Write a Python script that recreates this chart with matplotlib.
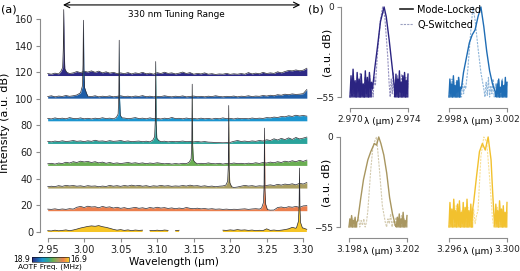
import numpy as np
import matplotlib
matplotlib.use('Agg')
import matplotlib.pyplot as plt
from matplotlib.colors import LinearSegmentedColormap
from matplotlib.cm import ScalarMappable
from matplotlib.colors import Normalize

# ---------------- panel (a) data ----------------
# stacked spectra, one per AOTF frequency (top to bottom)
trace_colors = ['#2e2a86', '#1f5ea8', '#1c95cf', '#2aa39b',
                '#6aae52', '#a99d60', '#eb7f4e', '#f6c526']
trace_floor = [117.5, 100.5, 83.5, 66.5, 50.0, 33.0, 16.0, 0.0]
peak_center = [2.972, 2.999, 3.048, 3.098, 3.148, 3.198, 3.247, 3.295]
peak_dx = [-0.004, -0.0015, -0.0006, 0.0, 0.0006, 0.0015, 0.004]
peak_rise = [
    [3.0, 6, 20, 49.5, 18, 5, 2.5],
    [4.0, 9, 25, 58.5, 22, 8, 4.0],
    [2.5, 5, 18, 60.5, 16, 4, 2.2],
    [2.5, 5, 17, 61.5, 15, 4, 2.2],
    [2.5, 5, 17, 61.0, 15, 4, 2.2],
    [2.2, 5, 16, 62.0, 14, 4, 1.0],
    [2.0, 6, 18, 62.0, 16, 5, 0.8],
    [3.5, 8, 20, 48.0, 18, 7, 3.0],
]
# background (noise) level above each floor, sampled 2.950 ... 3.305 um
noise_1 = [1.5, 1.0, 1.8, 1.2, 2.0, 2.5, 1.5, 2.0, 3.0, 2.2, 3.2, 2.6,
           3.5, 2.4, 3.3, 2.0, 2.8, 1.8, 2.4, 1.5, 2.0, 1.4, 2.2, 1.2,
           2.0, 1.5, 2.4, 1.3, 1.8, 1.0, 2.2, 1.5, 2.5, 1.6, 2.0, 1.2,
           1.8, 2.6, 1.5, 2.2, 1.0, 1.6, 1.2, 2.0, 1.0, 1.4, 0.8, 1.2,
           1.0, 1.6, 0.9, 1.3, 1.0, 1.5, 1.0, 2.2, 1.2, 1.8, 1.3, 2.4,
           1.5, 2.0, 1.6, 2.8, 2.0, 3.0, 3.8, 3.5, 4.2, 3.6, 4.0, 5.5]
noise_2 = [1.2, 1.8, 1.0, 1.6, 1.3, 2.0, 1.4, 1.8, 2.4, 3.0, 2.5, 1.5,
           1.2, 1.8, 1.0, 1.5, 1.2, 1.7, 1.0, 1.4, 1.8, 1.2, 1.5, 1.0,
           1.6, 1.3, 1.9, 1.1, 1.5, 1.0, 1.4, 1.2, 1.8, 1.3, 1.0, 1.5,
           1.2, 1.7, 1.0, 1.3, 1.6, 1.1, 1.4, 1.0, 1.5, 1.2, 1.8, 1.3,
           1.0, 1.4, 1.2, 1.6, 1.0, 1.5, 1.3, 1.8, 1.2, 1.6, 1.4, 2.0,
           1.6, 2.2, 1.8, 2.6, 2.2, 3.0, 2.6, 3.2, 2.8, 3.0, 3.4, 6.5]
noise_3 = [1.8, 1.4, 2.2, 1.6, 2.0, 1.5, 2.4, 1.8, 1.6, 2.2, 1.5, 1.9,
           1.4, 2.0, 1.6, 2.3, 1.7, 2.0, 1.5, 1.8, 1.4, 2.1, 1.6, 1.9,
           2.4, 1.7, 2.0, 1.5, 2.2, 1.6, 1.8, 1.4, 2.0, 1.6, 2.5, 1.7,
           1.9, 1.5, 2.1, 1.6, 1.8, 1.4, 2.0, 1.5, 1.8, 1.3, 1.9, 1.5,
           2.2, 1.6, 1.8, 1.4, 2.0, 1.6, 1.8, 1.5, 2.1, 1.7, 2.0, 1.8,
           2.4, 2.2, 2.8, 2.5, 3.2, 3.0, 3.8, 3.3, 4.2, 3.6, 4.0, 3.5]
noise_4 = [1.6, 1.2, 1.8, 1.4, 2.0, 1.5, 1.7, 2.2, 1.6, 1.9, 1.4, 2.0,
           1.6, 2.4, 1.7, 1.9, 1.5, 2.1, 1.6, 1.8, 2.2, 1.5, 1.9, 1.4,
           1.6, 1.8, 1.3, 1.7, 1.2, 1.5, 1.8, 1.4, 1.7, 1.2, 1.6, 1.3,
           1.5, 1.8, 1.4, 1.6, 1.2, 1.5, 1.1, 1.4, 1.0, 0.9, 0.7, 0.6,
           0.5, 0.6, 0.8, 1.6, 2.2, 1.5, 1.8, 1.4, 1.9, 1.6, 2.2, 1.8,
           2.8, 2.2, 3.5, 2.6, 3.8, 2.9, 4.2, 3.0, 4.5, 3.4, 4.0, 4.8]
noise_5 = [1.2, 1.6, 1.0, 1.8, 1.4, 2.4, 1.8, 2.8, 2.2, 3.2, 2.6, 3.0,
           2.2, 2.8, 1.9, 2.5, 1.6, 2.2, 1.5, 1.9, 1.4, 1.8, 2.2, 1.6,
           2.0, 1.5, 1.9, 1.3, 1.8, 1.5, 2.0, 1.6, 1.2, 1.5, 1.0, 1.4,
           1.1, 1.6, 1.3, 1.8, 1.4, 1.2, 1.6, 1.3, 1.9, 1.4, 1.2, 1.6,
           1.0, 1.5, 1.3, 1.8, 1.4, 1.6, 1.2, 1.7, 1.4, 2.0, 1.5, 2.2,
           1.8, 2.5, 2.0, 2.8, 2.2, 3.2, 2.6, 3.5, 2.8, 3.8, 3.0, 4.0]
noise_6 = [1.0, 1.4, 1.1, 1.8, 1.3, 2.0, 1.6, 1.9, 1.4, 1.7, 1.2, 1.8,
           1.4, 1.6, 1.0, 1.5, 1.2, 2.0, 1.4, 1.8, 1.3, 1.9, 1.5, 2.2,
           1.6, 2.0, 1.4, 1.8, 1.2, 1.7, 1.4, 2.0, 1.5, 1.8, 1.3, 1.6,
           1.4, 1.9, 1.5, 2.2, 1.6, 1.8, 1.3, 1.7, 1.2, 1.5, 1.0, 1.4,
           1.6, 1.2, 1.4, 0.4, 0.8, 1.4, 2.0, 1.5, 1.8, 1.3, 1.7, 1.5,
           2.0, 2.4, 1.9, 2.8, 2.2, 3.0, 2.6, 3.2, 2.4, 3.6, 3.0, 4.2]
noise_7 = [1.2, 1.0, 1.4, 0.9, 1.3, 1.0, 1.5, 1.2, 2.6, 3.2, 2.4, 3.4,
           2.8, 3.0, 2.2, 3.2, 2.5, 2.9, 2.0, 2.6, 1.8, 2.3, 1.6, 2.0,
           2.5, 1.8, 2.2, 1.6, 2.4, 1.9, 2.6, 2.0, 2.3, 1.7, 2.1, 1.5,
           2.0, 1.6, 2.4, 1.8, 1.5, 1.9, 1.4, 1.6, 1.2, 1.5, 1.1, 1.3,
           1.0, 1.2, 0.9, 1.1, 1.0, 1.2, 1.4, 1.0, 1.3, 1.5, 1.2, 1.6,
           1.4, 0.4, 0.5, 2.4, 2.8, 2.2, 3.0, 2.6, 3.2, 2.5, 3.6, 3.8]
nan = np.nan
noise_8 = [1.0, 0.8, 1.4, 0.9, 1.2, 1.6, 1.0, 1.5, 2.2, 3.0, 3.6, 4.2,
           4.6, 4.3, 4.8, 4.0, 3.5, 2.8, 2.0, 1.4, 1.8, 1.2, 1.6, 1.0,
           1.5, 1.2, 1.4, nan, 1.2, 1.0, 1.4, 1.0, 1.5, 1.2, nan, 1.0,
           1.3, nan, 1.1, nan, 1.0, nan, nan, 1.2, nan, nan, nan, nan,
           1.4, 1.2, 1.6, 1.3, 1.8, 1.4, 1.6, 1.2, 1.5, 1.0, 1.3, 1.1,
           2.4, 1.2, 1.5, 1.1, 1.4, 1.8, 2.4, 3.5, 2.8, 4.0, 3.0, 2.0]
noise_all = [noise_1, noise_2, noise_3, noise_4,
             noise_5, noise_6, noise_7, noise_8]
wl_start, wl_stop = 2.950, 3.305
cbar_labels = ['18.9', '16.9']

# ---------------- panel (b) data ----------------
# each zoom panel: (ML noise left, ML peak x, ML peak y, ML noise right,
#                   QS noise left, QS peak x, QS peak y, QS noise right)
zoom_titles = [(2.970, 2.974), (2.998, 3.002), (3.198, 3.202), (3.296, 3.300)]
zoom_colors = ['#2b2481', '#1f6db5', '#a89660', '#f2c12e']

tl_ml_left = [-55, -42, -54, -38, -53, -45, -55, -40, -52, -44, -55, -41,
              -54, -47, -55, -39, -53, -43, -55, -40, -52, -46]
tl_ml_px = [2.97155, 2.9717, 2.9719, 2.9721, 2.97235, 2.9725, 2.9727, 2.9729, 2.97305]
tl_ml_py = [-50, -38, -24, -9, 0, -6, -20, -36, -48]
tl_ml_right = [-55, -41, -53, -44, -55, -39, -52, -46, -55, -42, -54, -40,
               -55, -45, -53, -41]
tl_qs_left = [-55, -46, -54, -42, -55, -48, -53, -44, -55, -40, -54, -47,
              -55, -43, -52, -45, -55, -41, -54, -46, -55, -43]
tl_qs_px = [2.97175, 2.9719, 2.9721, 2.97225, 2.9724, 2.9726, 2.9727]
tl_qs_py = [-48, -28, -8, 0, -6, -30, -47]
tl_qs_right = [-55, -44, -53, -40, -55, -46, -54, -42, -55, -45, -52, -41,
               -55, -47, -54, -43, -55, -45]

tr_ml_left = [-55, -44, -53, -47, -55, -42, -54, -48, -55, -45, -52, -43,
              -55, -49]
tr_ml_px = [2.99885, 2.9990, 2.9992, 2.9994, 2.9996, 2.9998, 3.0000, 3.0002,
            3.0004, 3.0006, 3.0008, 3.0010, 3.0012]
tr_ml_py = [-50, -40, -31, -22, -17, -14, -6, 0, -12, -27, -39, -47, -52]
tr_ml_right = [-55, -47, -53, -44, -55, -49, -52, -45, -55, -48, -54, -43,
               -55, -46]
tr_qs_left = [-55, -48, -54, -44, -55, -50, -53, -46, -55, -43, -54, -49,
              -55, -45, -53, -48]
tr_qs_px = [2.99915, 2.9993, 2.9995, 2.99965, 2.9998, 3.0000, 3.0002, 3.0004]
tr_qs_py = [-50, -38, -15, 0, -8, -25, -40, -50]
tr_qs_right = [-55, -46, -54, -43, -55, -48, -53, -44, -55, -47, -52, -45,
               -55, -49, -54, -44, -55, -47, -53, -46]

bl_ml_left = [-55, -50, -54, -48, -55, -51, -53, -49, -55, -52]
bl_ml_px = [3.1986, 3.1988, 3.1990, 3.1993, 3.1995, 3.19975, 3.1999, 3.20005,
            3.2002, 3.2004, 3.2006, 3.2008, 3.2010, 3.2012]
bl_ml_py = [-51, -38, -26, -14, -9, -4, -5, 0, -4, -11, -22, -37, -47, -54]
bl_ml_right = [-55, -49, -54, -47, -55, -50, -53, -46, -55, -51, -54, -48]
bl_qs_left = [-55, -52, -54, -50, -55, -53, -52, -49, -55, -51, -54, -50,
              -55, -52]
bl_qs_px = [3.1993, 3.1995, 3.19965, 3.1998, 3.1999, 3.2001, 3.2003, 3.2005]
bl_qs_py = [-45, -20, -6, -2, 0, -20, -42, -52]
bl_qs_right = [-55, -50, -53, -47, -55, -51, -54, -49, -55, -52, -53, -48,
               -55, -50, -54, -51]

br_ml_left = [-55, -40, -53, -44, -55, -38, -52, -45, -55, -41, -54, -39,
              -55, -46, -53, -40, -55, -43, -52, -38, -55, -45, -54, -41,
              -55, -44]
br_ml_px = [3.2977, 3.2979, 3.2981, 3.2983, 3.2985, 3.2987, 3.2989, 3.2990, 3.2991]
br_ml_py = [-40, -24, -9, -4, -8, 0, -14, -32, -48]
br_ml_right = [-55, -41, -53, -45, -55, -39, -52, -44, -55, -42, -54, -46,
               -55, -40]
br_qs_left = [-55, -44, -54, -48, -55, -42, -53, -46, -55, -45, -52, -49,
              -55, -43, -54, -47, -55, -44, -53, -48]
br_qs_px = [3.2980, 3.2982, 3.2984, 3.2986, 3.2988, 3.2990]
br_qs_py = [-45, -12, 0, -3, -25, -50]
br_qs_right = [-55, -47, -53, -43, -55, -48, -54, -44, -55, -46, -52, -45]

zoom_data = [
    (tl_ml_left, tl_ml_px, tl_ml_py, tl_ml_right, tl_qs_left, tl_qs_px, tl_qs_py, tl_qs_right),
    (tr_ml_left, tr_ml_px, tr_ml_py, tr_ml_right, tr_qs_left, tr_qs_px, tr_qs_py, tr_qs_right),
    (bl_ml_left, bl_ml_px, bl_ml_py, bl_ml_right, bl_qs_left, bl_qs_px, bl_qs_py, bl_qs_right),
    (br_ml_left, br_ml_px, br_ml_py, br_ml_right, br_qs_left, br_qs_px, br_qs_py, br_qs_right),
]

SPINE = '#8c8c8c'
plt.rcParams['font.family'] = ['DejaVu Sans']
plt.rcParams['axes.unicode_minus'] = True


def style_axis(ax, size=7):
    for s in ['top', 'right']:
        ax.spines[s].set_visible(False)
    for s in ['left', 'bottom']:
        ax.spines[s].set_color(SPINE)
        ax.spines[s].set_linewidth(0.8)
    ax.tick_params(colors=SPINE, labelcolor='#222222', length=3, width=0.8,
                   labelsize=size, pad=2)


def build_trace(i):
    noise = np.array(noise_all[i], dtype=float)
    x = np.linspace(wl_start, wl_stop, len(noise))
    c = peak_center[i]
    keep = np.abs(x - c) > 0.0041
    px = c + np.array(peak_dx)
    xs = np.concatenate([x[keep], px])
    ys = np.concatenate([noise[keep], np.array(peak_rise[i], dtype=float)])
    order = np.argsort(xs)
    return xs[order], ys[order] + trace_floor[i]


def zoom_series(left, px, py, right, lo, hi):
    # noise samples fill the space between the panel edge and the peak
    xl = np.linspace(lo, px[0], len(left), endpoint=False)
    xr = np.linspace(px[-1], hi, len(right) + 1)[1:]
    x = np.concatenate([xl, px, xr])
    y = np.concatenate([left, py, right])
    return x, y, (xl, np.array(left)), (xr, np.array(right))


fig = plt.figure(figsize=(5.2, 2.71), dpi=100)

# ---------------- panel (a) ----------------
ax = fig.add_axes([40 / 520, 33 / 271, 268 / 520, 230 / 271])
for i in range(len(trace_colors)):
    x, y = build_trace(i)
    ax.fill_between(x, trace_floor[i], y, color=trace_colors[i], lw=0, zorder=2 + i)
    ax.plot(x, y, color='#2b2b33', lw=0.5, zorder=2 + i)

ax.set_xlim(2.9395, 3.3066)
ax.set_ylim(-4.5, 168.2)
ax.set_xticks(np.arange(2.95, 3.301, 0.05))
ax.set_xticklabels(['%.2f' % v for v in np.arange(2.95, 3.301, 0.05)])
ax.set_yticks(np.arange(0, 161, 20))
ax.spines['left'].set_bounds(0, 160)
ax.spines['bottom'].set_bounds(2.95, 3.30)
style_axis(ax)
ax.set_xlabel('Wavelength (µm)', fontsize=7.5, labelpad=1.5)
ax.set_ylabel('Intensity (a.u. dB)', fontsize=8, labelpad=3)

ax.annotate('', xy=(3.296, 170.5), xytext=(2.971, 170.5),
            arrowprops=dict(arrowstyle='<->', lw=0.8, color='black',
                            shrinkA=0, shrinkB=0),
            annotation_clip=False)
ax.text(3.126, 163, '330 nm Tuning Range', ha='center', va='center', fontsize=6.4)

fig.text(0.002, 1 - 9 / 271, '(a)', fontsize=8, va='center')
fig.text(308 / 520, 1 - 9 / 271, '(b)', fontsize=8, va='center')

# colorbar for AOTF frequency
cmap = LinearSegmentedColormap.from_list('aotf', trace_colors)
cax = fig.add_axes([32 / 520, 9.5 / 271, 36.5 / 520, 5 / 271])
cb = fig.colorbar(ScalarMappable(norm=Normalize(0, 1), cmap=cmap), cax=cax,
                  orientation='horizontal')
cb.set_ticks([])
cb.outline.set_linewidth(0.4)
fig.text(30 / 520, 1 - 259 / 271, cbar_labels[0], ha='right', va='center', fontsize=5.5)
fig.text(70 / 520, 1 - 259 / 271, cbar_labels[1], ha='left', va='center', fontsize=5.5)
fig.text(50 / 520, 1 - 267 / 271, 'AOTF Freq. (MHz)', ha='center', va='center', fontsize=5.3)

# ---------------- panel (b) ----------------
rects = [[341 / 520, 163 / 271, 69 / 520, 103 / 271],
         [440 / 520, 163 / 271, 69 / 520, 103 / 271],
         [340 / 520, 33 / 271, 69 / 520, 103 / 271],
         [440 / 520, 33 / 271, 69 / 520, 103 / 271]]
for k, rect in enumerate(rects):
    bx = fig.add_axes(rect)
    lo, hi = zoom_titles[k]
    ml_l, ml_px, ml_py, ml_r, qs_l, qs_px, qs_py, qs_r = zoom_data[k]
    col = zoom_colors[k]
    x, y, segl, segr = zoom_series(ml_l, ml_px, ml_py, ml_r, lo, hi)
    for sx, sy in (segl, segr):
        bx.fill_between(sx, -55, sy, color=col, lw=0, alpha=0.9, zorder=1)
    bx.plot(x, y, color=col, lw=1.0, label='Mode-Locked', zorder=2)
    x, y, segl, segr = zoom_series(qs_l, qs_px, qs_py, qs_r, lo, hi)
    bx.plot(x, y, color=col, lw=0.8, ls=(0, (2, 1)), alpha=0.5,
            label='Q-Switched', zorder=3)
    bx.set_xlim(lo - 9 / 14500, hi + 2 / 14500)
    bx.set_ylim(-61.7, 1.2)
    style_axis(bx, size=6.5)
    bx.spines['bottom'].set_bounds(lo, hi)
    bx.set_xticks([lo, hi])
    bx.set_xticklabels(['%.3f' % lo, '%.3f' % hi])
    bx.set_xlabel('λ (µm)', fontsize=6.5)
    bx.xaxis.set_label_coords(0.55, -0.085)
    if k in (0, 2):
        bx.spines['left'].set_bounds(-55, 0)
        bx.set_yticks([-55, 0])
        bx.set_ylabel('(a.u. dB)', fontsize=8)
        bx.yaxis.set_label_coords(-0.12, 0.54)
    else:
        bx.spines['left'].set_visible(False)
        bx.set_yticks([])
    if k == 0:
        handles, labels = bx.get_legend_handles_labels()
        leg_handles = [plt.Line2D([], [], color='#222222', lw=1.2),
                       plt.Line2D([], [], color='#9aa0c0', lw=0.8, ls=(0, (2, 1)))]
        fig.legend(leg_handles, labels, loc='upper left',
                   bbox_to_anchor=(396 / 520, 1 - 1 / 271), frameon=False,
                   fontsize=7, handlelength=1.3, handletextpad=0.5,
                   labelspacing=0.5, borderaxespad=0)

fig.savefig('out.png', dpi=100)
